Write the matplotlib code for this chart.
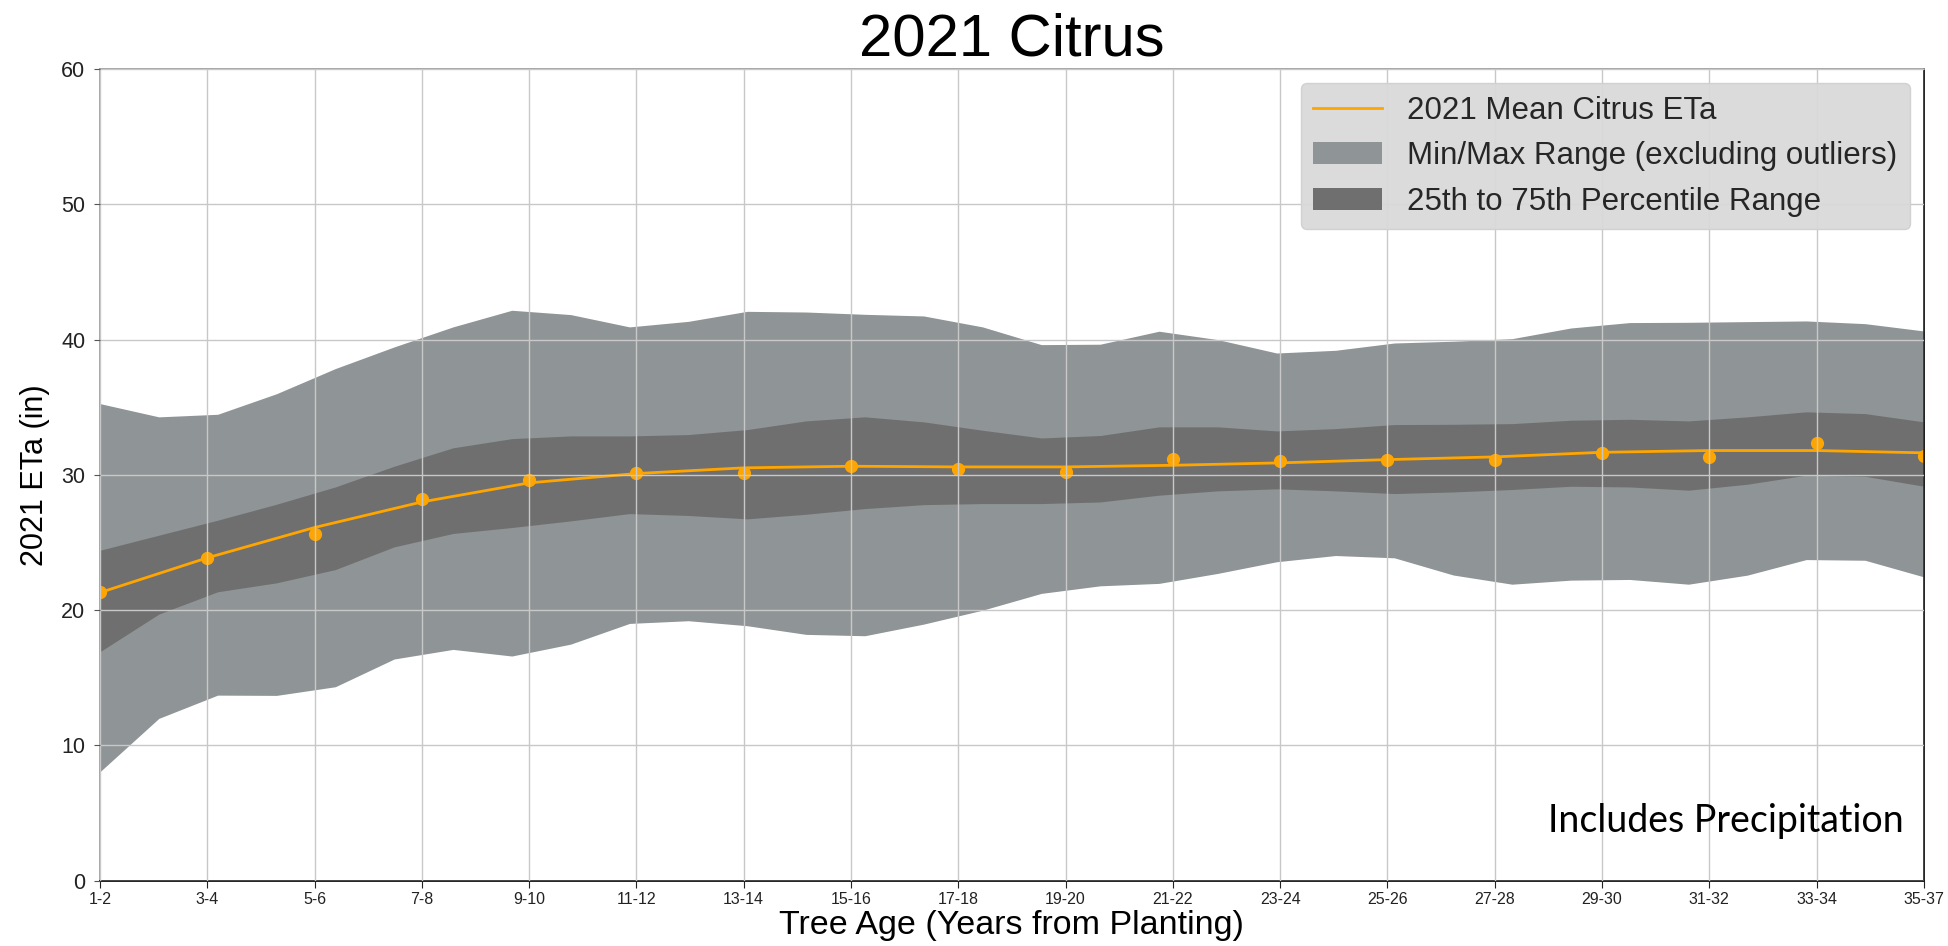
import matplotlib.pyplot as plt
import matplotlib as mpl
import numpy as np

mpl.rcParams['font.family'] = ['Liberation Sans', 'DejaVu Sans']

# Tree age groups (x axis)
age_labels = ['1-2', '3-4', '5-6', '7-8', '9-10', '11-12', '13-14', '15-16', '17-18',
              '19-20', '21-22', '23-24', '25-26', '27-28', '29-30', '31-32', '33-34', '35-37']

# Mean ETa trend line and observed means (in), one per age group
mean_line = [21.3, 23.87, 26.11, 28.0, 29.41, 30.1, 30.52, 30.64, 30.59,
             30.59, 30.71, 30.89, 31.13, 31.33, 31.67, 31.8, 31.8, 31.63]
mean_obs = [21.31, 23.82, 25.62, 28.2, 29.6, 30.15, 30.15, 30.67, 30.47,
            30.22, 31.18, 30.99, 31.08, 31.08, 31.63, 31.33, 32.39, 31.38]

# Range envelopes (in), 32 samples spread evenly along the age axis
band_max = [35.27, 34.29, 34.48, 36.0, 37.86, 39.46, 40.94, 42.17, 41.85, 40.94, 41.35,
            42.09, 42.04, 41.87, 41.75, 40.94, 39.63, 39.66, 40.62, 40.0, 39.01, 39.21,
            39.75, 39.88, 40.07, 40.86, 41.26, 41.28, 41.33, 41.38, 41.18, 40.64]
band_q75 = [24.43, 25.54, 26.65, 27.83, 29.11, 30.64, 32.0, 32.68, 32.88, 32.88, 32.98,
            33.35, 33.99, 34.29, 33.92, 33.3, 32.73, 32.91, 33.55, 33.55, 33.25, 33.42,
            33.72, 33.74, 33.79, 34.04, 34.11, 33.99, 34.29, 34.66, 34.53, 33.92]
band_q25 = [16.93, 19.71, 21.36, 22.02, 23.0, 24.68, 25.67, 26.11, 26.6, 27.14, 27.0,
            26.75, 27.09, 27.51, 27.8, 27.88, 27.88, 28.0, 28.5, 28.82, 28.97, 28.82,
            28.62, 28.74, 28.92, 29.16, 29.11, 28.87, 29.31, 29.98, 29.9, 29.16]
band_min = [8.06, 12.0, 13.72, 13.70, 14.34, 16.39, 17.1, 16.61, 17.49, 19.02, 19.22,
            18.85, 18.21, 18.11, 18.97, 20.0, 21.24, 21.8, 21.98, 22.72, 23.58, 24.04,
            23.87, 22.6, 21.92, 22.22, 22.27, 21.92, 22.59, 23.74, 23.69, 22.46]

x = np.arange(len(age_labels))
xb = np.linspace(0, len(age_labels) - 1, len(band_max))

fig = plt.figure(figsize=(19.49, 9.46), dpi=100)
ax = fig.add_axes([0.0513, 0.069, 0.9358, 0.858])

ax.fill_between(xb, band_min, band_max, color='#8f9496', lw=0, zorder=1,
                label='Min/Max Range (excluding outliers)')
ax.fill_between(xb, band_q25, band_q75, color='#6f6f6f', lw=0, zorder=1.1,
                label='25th to 75th Percentile Range')
ax.plot(x, mean_line, color='#ffa500', lw=2, zorder=2, label='2021 Mean Citrus ETa')
ax.plot(x, mean_obs, 'o', color='#ffa500', ms=8.5, zorder=2.1)

# Format
ax.set_xlim(0, len(age_labels) - 1)
ax.set_ylim(0, 60)
ax.set_xticks(x)
ax.set_xticklabels(age_labels, fontsize=11.5, color='#222222')
ax.set_yticks(np.arange(0, 61, 10))
ax.tick_params(axis='y', labelsize=15.5, labelcolor='#222222', length=4.5, pad=6,
               color='#555555')
ax.tick_params(axis='x', length=5, color='#222222', pad=3)
ax.set_axisbelow(False)
ax.grid(True, color='#c8c8c8', lw=1)
for s in ['left', 'top']:
    ax.spines[s].set_color('#a0a0a0')
    ax.spines[s].set_linewidth(1.3)
for s in ['bottom', 'right']:
    ax.spines[s].set_color('#111111')
    ax.spines[s].set_linewidth(1.3)

ax.set_title('2021 Citrus', fontsize=43, pad=10)
ax.set_xlabel('Tree Age (Years from Planting)', fontsize=24.5, labelpad=2)
ax.set_ylabel('2021 ETa (in)', fontsize=22, labelpad=8)

h, l = ax.get_legend_handles_labels()
order = [2, 0, 1]
leg = ax.legend([h[i] for i in order], [l[i] for i in order], loc='upper right',
                fontsize=22.5, facecolor='#d9d9d9', edgecolor='#d0d0d0', framealpha=0.95,
                fancybox=True, handlelength=2.2, borderaxespad=0.45)
for t in leg.get_texts():
    t.set_color('#262626')

ax.text(0.989, 0.06, 'Includes Precipitation', transform=ax.transAxes, ha='right',
        va='baseline', fontsize=27, family=['Lato', 'DejaVu Sans'], zorder=5)

fig.savefig('out.png', dpi=100)
